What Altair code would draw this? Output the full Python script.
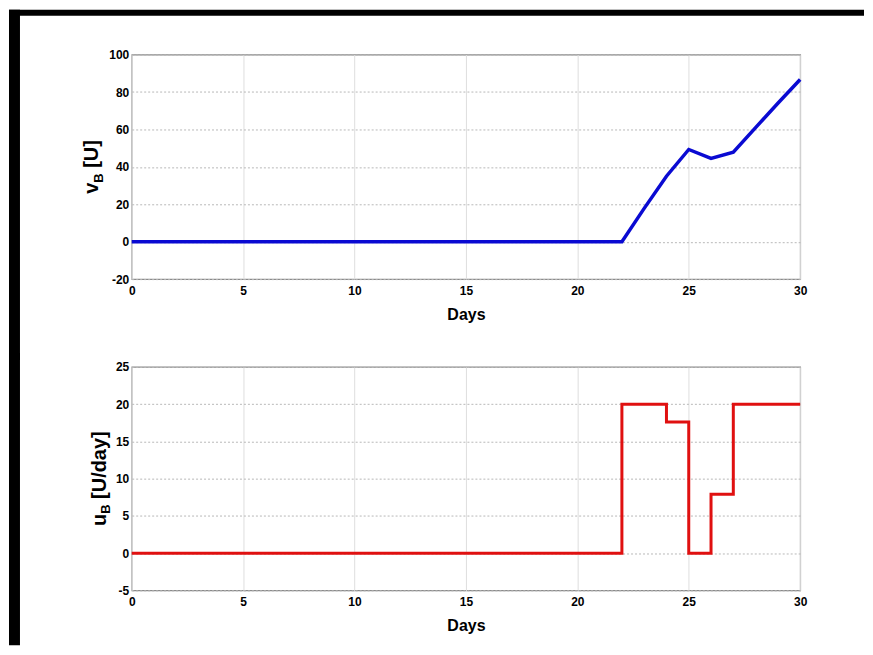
import altair as alt
import pandas as pd

# ---- data ----
days_v = [0, 22, 23, 24, 25, 26, 27, 28, 29, 30]
v_b = [0, 0, 17.8, 35.0, 49.3, 44.5, 47.8, 61.0, 74.0, 86.7]

days_u = [0, 22, 24, 25, 26, 27, 30]
u_b = [0, 20, 17.6, 0, 7.9, 20, 20]

x_ticks = [0, 5, 10, 15, 20, 25, 30]
v_ticks = [-20, 0, 20, 40, 60, 80, 100]
u_ticks = [-5, 0, 5, 10, 15, 20, 25]

FONT = "Liberation Sans, Arial, sans-serif"

df_v = pd.DataFrame({"day": days_v, "v": v_b})
df_u = pd.DataFrame({"day": days_u, "u": u_b})
one = pd.DataFrame({"k": [0]})

W = 670


def x_axis():
    return alt.Axis(values=x_ticks, title="Days", titleFont=FONT, titleFontSize=16,
                    titleFontWeight="bold", titleBaseline="alphabetic", titleY=40,
                    titleColor="black", labelFont=FONT, labelFontSize=12,
                    labelFontWeight="bold", labelColor="black", labelPadding=6,
                    labelFlush=False, ticks=False, domain=False, grid=True,
                    gridColor="#dedede", gridWidth=1, labelExpr="datum.value")


def y_axis(vals):
    return alt.Axis(values=vals, title=None, labelFont=FONT, labelFontSize=12,
                    labelFontWeight="bold", labelColor="black", labelPadding=3,
                    ticks=False, domain=False, grid=True, gridColor="#b8b8b8",
                    gridDash=[2, 2], gridWidth=1, labelExpr="datum.value")


def strip(x, x2, y, y2):
    return alt.Chart(one).mark_rect(color="black").encode(
        x=alt.value(x), x2=alt.value(x2), y=alt.value(y), y2=alt.value(y2))


def label(txt, size, x, y):
    return alt.Chart(one).mark_text(
        text=txt, angle=270, align="left", baseline="alphabetic",
        fontSize=size, fontWeight="bold", font=FONT, color="black"
    ).encode(x=alt.value(x), y=alt.value(y))


# ---- top panel ----
H1 = 225
line_v = alt.Chart(df_v).mark_line(color="#0a0ad2", strokeWidth=3.5).encode(
    x=alt.X("day:Q", scale=alt.Scale(domain=[0, 30], nice=False), axis=x_axis()),
    y=alt.Y("v:Q", scale=alt.Scale(domain=[-20, 100], nice=False), axis=y_axis(v_ticks)),
)
top = alt.layer(
    strip(-123, W + 64, -45, -39),
    strip(-123, -112, -45, 306),
    line_v,
    label("v", 20, -34, 139.5),
    label("B", 13, -29, 128.4),
    label("[U]", 20, -34, 113.4),
).properties(width=W, height=H1)

# ---- bottom panel ----
H2 = 224
line_u = alt.Chart(df_u).mark_line(color="#e01010", strokeWidth=3, interpolate="step-after").encode(
    x=alt.X("day:Q", scale=alt.Scale(domain=[0, 30], nice=False), axis=x_axis()),
    y=alt.Y("u:Q", scale=alt.Scale(domain=[-5, 25], nice=False), axis=y_axis(u_ticks)),
)
bottom = alt.layer(
    strip(-123, -112, -14, 279),
    line_u,
    label("u", 20, -26, 159.5),
    label("B", 13, -22, 147.3),
    label("[U/day]", 20, -26, 132.3),
).properties(width=W, height=H2)

chart = alt.vconcat(top, bottom, spacing=88, bounds="flush").properties(
    padding=0, background="white"
).configure_view(stroke="#8a8a8a", strokeWidth=1.2)

chart.save("out.html", embed_options={"renderer": "svg", "actions": False})
